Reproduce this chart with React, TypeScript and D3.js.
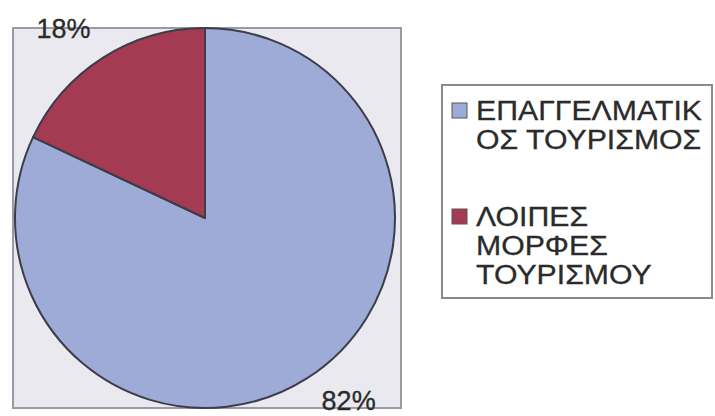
import React from "react";
import * as d3 from "d3";

const categories = ["ΕΠΑΓΓΕΛΜΑΤΙΚΟΣ ΤΟΥΡΙΣΜΟΣ", "ΛΟΙΠΕΣ ΜΟΡΦΕΣ ΤΟΥΡΙΣΜΟΥ"];
const values = [82, 18];
const legendLines = [
  ["ΕΠΑΓΓΕΛΜΑΤΙΚ", "ΟΣ ΤΟΥΡΙΣΜΟΣ"],
  ["ΛΟΙΠΕΣ", "ΜΟΡΦΕΣ", "ΤΟΥΡΙΣΜΟΥ"],
];
const colors = ["#9eabd6", "#a53b52"];

const W = 715;
const H = 416;
const plot = { x: 13, y: 28, w: 388, h: 380 };
const cx = 205;
const cy = 218;
const R = 190;

// label anchors (relative to plot area), layout only
const labelPos = [
  { fx: 0.865, fy: 1.005 }, // 82%
  { fx: 0.13, fy: 0.027 }, // 18%
];

export default function App() {
  const arcs = d3
    .pie<number>()
    .sort(null)
    .value((d) => d)
    .startAngle(0)
    .endAngle(2 * Math.PI)(values);
  const arc = d3.arc<d3.PieArcDatum<number>>().innerRadius(0).outerRadius(R);

  const legend = { x: 442, y: 85, w: 270, h: 213 };
  const fs = 27;
  const lh = 29;
  const entryStarts = [120, 226];

  return (
    <svg
      width={W}
      height={H}
      style={{ position: "absolute", left: 0, top: 0, background: "#fff" }}
      fontFamily="'Liberation Sans', Arial, sans-serif"
    >
      <rect
        x={plot.x}
        y={plot.y}
        width={plot.w}
        height={plot.h}
        fill="#e9e9ef"
        stroke="#9a9aa2"
        strokeWidth={2}
      />
      <g transform={`translate(${cx},${cy})`}>
        {arcs.map((a, i) => (
          <path
            key={categories[i]}
            d={arc(a) || ""}
            fill={colors[i]}
            stroke="#3c3c4a"
            strokeWidth={2}
            strokeLinejoin="round"
          />
        ))}
      </g>
      {values.map((v, i) => (
        <text
          key={"l" + i}
          x={plot.x + labelPos[i].fx * plot.w}
          y={plot.y + labelPos[i].fy * plot.h}
          textAnchor="middle"
          fontSize={27}
          fill="#2a2a2a"
          stroke="#2a2a2a"
          strokeWidth={0.3}
        >
          {v + "%"}
        </text>
      ))}
      <rect
        x={legend.x}
        y={legend.y}
        width={legend.w}
        height={legend.h}
        fill="#fff"
        stroke="#8a8a8a"
        strokeWidth={2}
      />
      {legendLines.map((lines, i) => (
        <g key={"leg" + i}>
          <rect
            x={452}
            y={entryStarts[i] - 17}
            width={15}
            height={15}
            fill={colors[i]}
            stroke="#555"
            strokeWidth={1}
          />
          {lines.map((t, j) => (
            <text
              key={t}
              x={0}
              y={0}
              fontSize={fs}
              fill="#2b2b2b"
              stroke="#2b2b2b"
              strokeWidth={0.3}
              transform={`translate(476,${entryStarts[i] + j * lh}) scale(1.12,1)`}
            >
              {t}
            </text>
          ))}
        </g>
      ))}
    </svg>
  );
}
